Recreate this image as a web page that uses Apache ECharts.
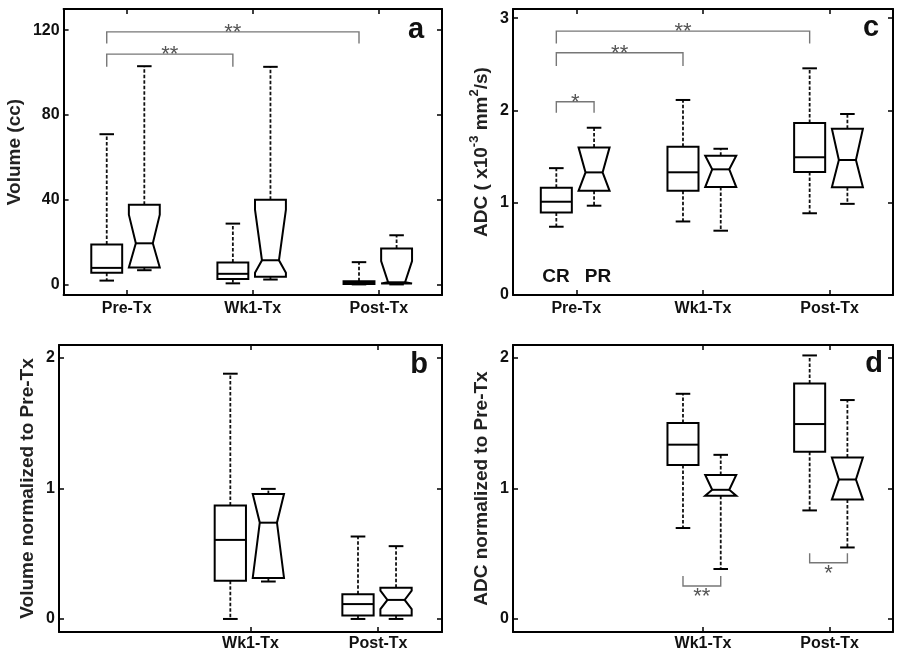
<!DOCTYPE html>
<html>
<head>
<meta charset="utf-8">
<script src="https://cdn.jsdelivr.net/npm/echarts@6.0.0/dist/echarts.min.js"></script>
<style>
html,body{margin:0;padding:0;background:#fff;}
#chart{width:900px;height:654px;}
</style>
</head>
<body>
<div id="chart"></div>
<script>
// ---------------- DATA ----------------
const categories = ['Pre-Tx', 'Wk1-Tx', 'Post-Tx'];
// each row: [categoryIndex, whiskerLow, q1, median, q3, whiskerHigh]
// Panel a: tumour volume (cc)
const volumeCR = [[0, 1.8, 5.5, 7.8, 18.8, 70.9], [1, 0.5, 2.5, 5.0, 10.3, 28.7], [2, 0, 0.2, 0.7, 1.5, 10.5]];
const volumePR = [[0, 6.7, 8.0, 19.4, 37.6, 103], [1, 2.3, 3.6, 11.4, 40, 102.7], [2, 0, 0.4, 1.0, 16.9, 23.2]];
const volumePRNotch = [[5, 32.9], [5.5, 35.3], [-9, 11]];
// Panel b: volume normalized to Pre-Tx
const normVolumeCR = [[1, 0, 0.293, 0.606, 0.869, 1.88], [2, 0, 0.026, 0.114, 0.189, 0.632]];
const normVolumePR = [[1, 0.287, 0.314, 0.738, 0.957, 0.997], [2, 0, 0.026, 0.146, 0.24, 0.558]];
const normVolumePRNotch = [[0.2, 1.3], [0.075, 0.217]];
// Panel c: ADC (x10^-3 mm^2/s)
const adcCR = [[0, 0.74, 0.893, 1.011, 1.163, 1.375], [1, 0.797, 1.129, 1.33, 1.606, 2.114], [2, 0.886, 1.333, 1.493, 1.864, 2.457]];
const adcPR = [[0, 0.968, 1.129, 1.329, 1.60, 1.813], [1, 0.697, 1.17, 1.362, 1.51, 1.585], [2, 0.988, 1.167, 1.463, 1.802, 1.962]];
const adcPRNotch = [[1.08, 1.62], [1.15, 1.55], [1.1, 1.85]];
// Panel d: ADC normalized to Pre-Tx
const normAdcCR = [[1, 0.697, 1.18, 1.336, 1.502, 1.726], [2, 0.832, 1.282, 1.494, 1.805, 2.02]];
const normAdcPR = [[1, 0.383, 0.945, 0.99, 1.104, 1.258], [2, 0.548, 0.915, 1.069, 1.237, 1.678]];
const normAdcPRNotch = [[0.9, 1.12], [0.85, 1.28]];
// significance brackets: [catA, groupA(0=CR,1=PR), catB, groupB, yLine, yLegEnd, stars]
const volumeBrackets = [[0, 0, 2, 0, 119.2, 113.7, 2], [0, 0, 1, 0, 108.7, 102.7, 2]];
const adcBrackets = [[0, 0, 2, 0, 2.86, 2.727, 2], [0, 0, 1, 0, 2.625, 2.481, 2], [0, 0, 0, 1, 2.094, 1.975, 1]];
const normAdcBrackets = [[1, 0, 1, 1, 0.253, 0.33, 2], [2, 0, 2, 1, 0.431, 0.503, 1]];
// axis tick values
const volumeTicks = [0, 40, 80, 120];
const normTicks = [0, 1, 2];
const adcTicks = [0, 1, 2, 3];

// ---------------- STYLE ----------------
const GROUP_OFFSET = [-0.158, 0.14];
const BOX_W = 0.245;
const FONT = 'Liberation Sans, Arial, Helvetica, sans-serif';
const boxStyle = {stroke: '#000', lineWidth: 2, fill: 'none'};
const whiskerStyle = {stroke: '#111', lineWidth: 1.8, lineDash: [3.5, 2]};
const capStyle = {stroke: '#000', lineWidth: 2};

function makeBoxRender(group, notched) {
  return function (params, api) {
    const cat = api.value(0);
    const wl = api.value(1), q1 = api.value(2), med = api.value(3), q3 = api.value(4), wh = api.value(5);
    const band = api.size([1, 0])[0];
    const cx = api.coord([cat, med])[0] + GROUP_OFFSET[group] * band;
    const hw = BOX_W * band / 2;
    const Y = v => api.coord([cat, v])[1];
    const capW = hw * 0.47;
    const ch = [];
    ch.push({type: 'line', shape: {x1: cx, y1: Y(q3), x2: cx, y2: Y(wh)}, style: whiskerStyle});
    ch.push({type: 'line', shape: {x1: cx, y1: Y(q1), x2: cx, y2: Y(wl)}, style: whiskerStyle});
    ch.push({type: 'line', shape: {x1: cx - capW, y1: Y(wh), x2: cx + capW, y2: Y(wh)}, style: capStyle});
    ch.push({type: 'line', shape: {x1: cx - capW, y1: Y(wl), x2: cx + capW, y2: Y(wl)}, style: capStyle});
    if (notched) {
      const nLo = Math.max(api.value(6), q1), nHi = Math.min(api.value(7), q3);
      const nw = hw * 0.55;
      const pts = [
        [cx - hw, Y(q3)], [cx + hw, Y(q3)], [cx + hw, Y(nHi)], [cx + nw, Y(med)], [cx + hw, Y(nLo)],
        [cx + hw, Y(q1)], [cx - hw, Y(q1)], [cx - hw, Y(nLo)], [cx - nw, Y(med)], [cx - hw, Y(nHi)]
      ];
      ch.push({type: 'polygon', shape: {points: pts}, style: boxStyle});
      ch.push({type: 'line', shape: {x1: cx - nw, y1: Y(med), x2: cx + nw, y2: Y(med)}, style: capStyle});
    } else {
      ch.push({type: 'rect', shape: {x: cx - hw, y: Y(q3), width: 2 * hw, height: Y(q1) - Y(q3)}, style: boxStyle});
      ch.push({type: 'line', shape: {x1: cx - hw, y1: Y(med), x2: cx + hw, y2: Y(med)}, style: capStyle});
    }
    return {type: 'group', children: ch};
  };
}

function bracketRender(params, api) {
  const band = api.size([1, 0])[0];
  const xa = api.coord([api.value(0), 0])[0] + GROUP_OFFSET[api.value(1)] * band;
  const xb = api.coord([api.value(2), 0])[0] + GROUP_OFFSET[api.value(3)] * band;
  const yl = api.coord([api.value(0), api.value(4)])[1];
  const yg = api.coord([api.value(0), api.value(5)])[1];
  const below = yg < yl;
  const n = api.value(6);
  return {type: 'group', children: [
    {type: 'polyline', shape: {points: [[xa, yg], [xa, yl], [xb, yl], [xb, yg]]}, style: {stroke: '#777', lineWidth: 1.4, fill: 'none'}},
    {type: 'text', x: (xa + xb) / 2, y: below ? yl + 11 : yl + 1,
      style: {text: '*'.repeat(n), fontSize: 22, fontFamily: FONT, fill: '#555', textAlign: 'center', textVerticalAlign: 'middle'}}
  ]};
}

// ---------------- LAYOUT ----------------
const grids = [
  {left: 59, top: 9, width: 383, height: 286},   // a
  {left: 59, top: 345, width: 383, height: 287}, // b
  {left: 513, top: 9, width: 380, height: 286},  // c
  {left: 513, top: 345, width: 380, height: 287} // d
];
const panels = [
  {min: -5, max: 130, ticks: volumeTicks, name: 'Volume (cc)', nameGap: 34, hidePre: false},
  {min: -0.1, max: 2.1, ticks: normTicks, name: 'Volume normalized to Pre-Tx', nameGap: 13, hidePre: true},
  {min: 0, max: 3.1, ticks: adcTicks, name: 'ADC ( x10{sup|-3} mm{sup|2}/s)', nameGap: 15, hidePre: false},
  {min: -0.1, max: 2.1, ticks: normTicks, name: 'ADC normalized to Pre-Tx', nameGap: 16, hidePre: true}
];

const xAxis = [], yAxis = [];
const axisLineStyle = {show: true, onZero: false, lineStyle: {color: '#000', width: 2}};
panels.forEach((p, i) => {
  const tickInterval = p.hidePre ? (idx) => idx !== 0 : 0;
  const tick = {show: true, inside: true, length: 5, alignWithLabel: true, interval: tickInterval, lineStyle: {color: '#000', width: 1.5}};
  xAxis.push({type: 'category', data: categories, gridIndex: i, position: 'bottom', boundaryGap: true,
    axisLine: axisLineStyle, axisTick: tick, splitLine: {show: false},
    axisLabel: {interval: 0, margin: p.hidePre ? 4 : 6, fontSize: 16, fontWeight: 'bold', fontFamily: FONT, color: '#111',
      formatter: v => (p.hidePre && v === 'Pre-Tx') ? '' : v}});
  xAxis.push({type: 'category', data: categories, gridIndex: i, position: 'top', boundaryGap: true,
    axisLine: axisLineStyle, axisTick: tick, axisLabel: {show: false}, splitLine: {show: false}});
  const ytick = {show: true, inside: true, length: 5, customValues: p.ticks, lineStyle: {color: '#000', width: 1.5}};
  yAxis.push({type: 'value', gridIndex: i, position: 'left', min: p.min, max: p.max,
    axisLine: axisLineStyle, axisTick: ytick, splitLine: {show: false},
    axisLabel: {customValues: p.ticks, margin: 4, fontSize: 16, fontWeight: 'bold', fontFamily: FONT, color: '#111'},
    name: p.name, nameLocation: 'middle', nameGap: p.nameGap,
    nameTextStyle: {fontSize: 19, fontWeight: 'bold', fontFamily: FONT, color: '#222', lineHeight: 28,
      rich: {sup: {fontSize: 13, fontWeight: 'bold', fontFamily: FONT, color: '#222', verticalAlign: 'top', lineHeight: 13}}}});
  yAxis.push({type: 'value', gridIndex: i, position: 'right', min: p.min, max: p.max,
    axisLine: axisLineStyle, axisTick: ytick, axisLabel: {show: false}, splitLine: {show: false}});
});

function boxSeries(panelIdx, rows, group, notches) {
  const data = rows.map((r, k) => notches ? r.concat(notches[k]) : r);
  return {type: 'custom', xAxisIndex: panelIdx * 2, yAxisIndex: panelIdx * 2, clip: false,
    renderItem: makeBoxRender(group, !!notches), data: data,
    encode: {x: 0, y: [1, 2, 3, 4, 5]}, silent: true};
}
function bracketSeries(panelIdx, rows) {
  return {type: 'custom', xAxisIndex: panelIdx * 2, yAxisIndex: panelIdx * 2, clip: false,
    renderItem: bracketRender, data: rows, encode: {x: 0, y: 4}, silent: true};
}

const series = [
  boxSeries(0, volumeCR, 0, null), boxSeries(0, volumePR, 1, volumePRNotch), bracketSeries(0, volumeBrackets),
  boxSeries(1, normVolumeCR, 0, null), boxSeries(1, normVolumePR, 1, normVolumePRNotch),
  boxSeries(2, adcCR, 0, null), boxSeries(2, adcPR, 1, adcPRNotch), bracketSeries(2, adcBrackets),
  boxSeries(3, normAdcCR, 0, null), boxSeries(3, normAdcPR, 1, normAdcPRNotch), bracketSeries(3, normAdcBrackets)
];

const letter = (t, x, y) => ({type: 'text', x: x, y: y, style: {text: t, fontSize: 29, fontWeight: 'bold', fontFamily: FONT, fill: '#111', textAlign: 'center', textVerticalAlign: 'middle'}});
const label = (t, x, y) => ({type: 'text', x: x, y: y, style: {text: t, fontSize: 19, fontWeight: 'bold', fontFamily: FONT, fill: '#111', textAlign: 'center', textVerticalAlign: 'middle'}});

const chart = echarts.init(document.getElementById('chart'), null, {renderer: 'canvas'});
chart.setOption({
  animation: false,
  backgroundColor: '#fff',
  grid: grids,
  xAxis: xAxis,
  yAxis: yAxis,
  series: series,
  graphic: {elements: [
    letter('a', 416, 30), letter('c', 871, 28), letter('b', 419, 365), letter('d', 874, 364),
    label('CR', 556, 277), label('PR', 598, 277)
  ]}
});
</script>
</body>
</html>
